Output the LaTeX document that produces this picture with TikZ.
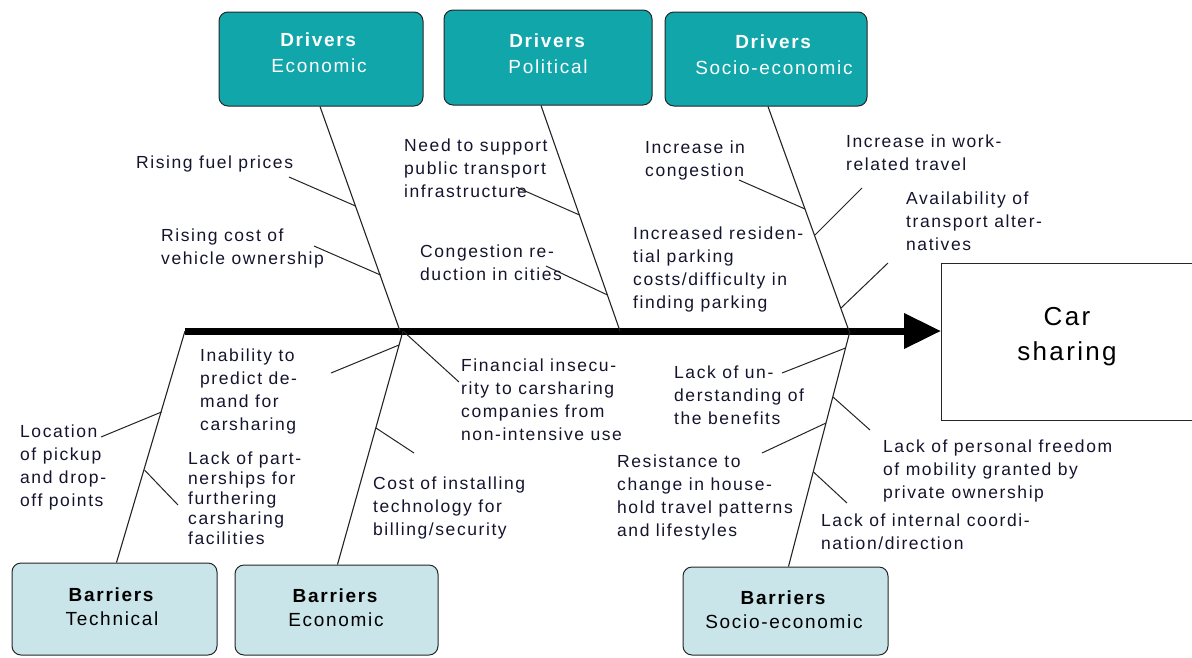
\documentclass[tikz,border=0pt]{standalone}
\usepackage{fontspec}
\setmainfont{Liberation Sans}[LetterSpace=9]
\usetikzlibrary{arrows.meta}

\definecolor{drvteal}{RGB}{16,166,170}
\definecolor{barblue}{RGB}{201,229,234}
\definecolor{boneline}{RGB}{35,35,35}
\definecolor{causetext}{RGB}{20,20,45}

\tikzset{
	bone/.style={draw=boneline, line width=1.1pt},
	twig/.style={draw=boneline, line width=1pt},
	cause/.style={anchor=north west, yshift=14pt, align=left, inner sep=0pt, text=causetext,
		font=\fontsize{17.5}{23}\selectfont, execute at begin node={\rule{0pt}{14pt}}},
	catbox/.style={draw=black!85, line width=1pt, rounded corners=9pt},
	drvbox/.style={catbox, fill=drvteal},
	barbox/.style={catbox, fill=barblue},
	drvtext/.style={align=center, text=white, font=\fontsize{19}{26}\selectfont},
	bartext/.style={align=center, text=black, font=\fontsize{19}{24}\selectfont}
}

\begin{document}
\begin{tikzpicture}[x=1pt, y=-1pt]
	\useasboundingbox (0,0) rectangle (1192,657);

	% effect box and spine:
	\node [draw=black!85, line width=1pt, minimum width=253pt, minimum height=157pt] (car) at (1067.5,341.5) {};
	\node [align=center, font=\fontsize{26}{35}\selectfont] (cartext) at (1067,337) {Car\\sharing};
	\coordinate (tail) at (185,331);
	\coordinate (head) at (941,331);
	\draw [line width=7pt, -{Triangle[length=37pt, width=34pt]}] (tail) -- (head);

	% drivers:
	\node [drvbox, minimum width=204pt, minimum height=94pt] (drvEco) at (321,59) {};
	\node [drvbox, minimum width=208pt, minimum height=95pt] (drvPol) at (548,57.5) {};
	\node [drvbox, minimum width=202pt, minimum height=94pt] (drvSoc) at (766,59) {};
	\node [drvtext] (drvEcoT) at (319,53) {\textbf{Drivers}\\Economic};
	\node [drvtext] (drvPolT) at (548,54) {\textbf{Drivers}\\Political};
	\node [drvtext] (drvSocT) at (774,55) {\textbf{Drivers}\\Socio-economic};

	% barriers:
	\node [barbox, minimum width=205pt, minimum height=92pt] (barTec) at (114.5,609) {};
	\node [barbox, minimum width=203pt, minimum height=90pt] (barEco) at (336.5,610) {};
	\node [barbox, minimum width=205pt, minimum height=88pt] (barSoc) at (785.5,611) {};
	\node [bartext] (barTecT) at (112,607) {\textbf{Barriers}\\Technical};
	\node [bartext] (barEcoT) at (336,608) {\textbf{Barriers}\\Economic};
	\node [bartext] (barSocT) at (784,610) {\textbf{Barriers}\\Socio-economic};

	% bones on the spine:
	\coordinate (sEco) at (400,331);
	\coordinate (sPol) at (620,331);
	\coordinate (sSoc) at (849,331);
	\coordinate (sBarEco) at (403,331);
	\coordinate (sBarSoc) at (850,331);
	\draw [bone] ([xshift=-1pt]drvEco.south) -- (sEco);
	\draw [bone] ([xshift=-7pt]drvPol.south) -- (sPol);
	\draw [bone] ([xshift=2pt]drvSoc.south) -- (sSoc);
	\draw [bone] (tail) -- ([xshift=2pt]barTec.north);
	\draw [bone] (sBarEco) -- ([xshift=1pt]barEco.north);
	\draw [bone] (sBarSoc) -- ([xshift=3pt]barSoc.north);

	% causes, drivers economic:
	\node [cause] (fuel) at (136,168) {Rising fuel prices};
	\node [cause] (owncost) at (161,243) {Rising cost of\\vehicle ownership};
	\draw [twig] (355.5,206) coordinate (fuelB) -- (289,177) coordinate (fuelE);
	\draw [twig] (380.5,275) coordinate (owncostB) -- (314,246) coordinate (owncostE);

	% causes, drivers political:
	\node [cause] (pubtr) at (404,153) {Need to support\\public transport\\infrastructure};
	\node [cause] (congred) at (420,259) {Congestion re-\\duction in cities};
	\draw [twig] (579.5,215) coordinate (pubtrB) -- (516,187) coordinate (pubtrE);
	\draw [twig] (607.5,295) coordinate (congredB) -- (546,266) coordinate (congredE);

	% causes, drivers socio-economic:
	\node [cause] (congest) at (645,155) {Increase in\\congestion};
	\node [cause] (work) at (846,149) {Increase in work-\\related travel};
	\node [cause] (altern) at (906,206) {Availability of\\transport alter-\\natives};
	\node [cause] (parking) at (633,241) {Increased residen-\\tial parking\\costs/difficulty in\\finding parking};
	\draw [twig] (805,209) coordinate (congestB) -- (739,180) coordinate (congestE);
	\draw [twig] (815,235) coordinate (workB) -- (862,188) coordinate (workE);
	\draw [twig] (841,308) coordinate (alternB) -- (888,263) coordinate (alternE);

	% causes, barriers technical:
	\node [cause] (pickup) at (20,439) {Location\\of pickup\\and drop-\\off points};
	\node [cause, font=\fontsize{17.5}{20}\selectfont] (partner) at (188,466) {Lack of part-\\nerships for\\furthering\\carsharing\\facilities};
	\draw [twig] (161.5,412) coordinate (pickupB) -- (101,437) coordinate (pickupE);
	\draw [twig] (144.5,470) coordinate (partnerB) -- (178,505) coordinate (partnerE);

	% causes, barriers economic:
	\node [cause] (demand) at (200,363) {Inability to\\predict de-\\mand for\\carsharing};
	\node [cause] (finance) at (461,373) {Financial insecu-\\rity to carsharing\\companies from\\non-intensive use};
	\node [cause] (install) at (373,491) {Cost of installing\\technology for\\billing/security};
	\draw [twig] (399,345) coordinate (demandB) -- (331,373) coordinate (demandE);
	\draw [twig] (sBarEco) -- (459,382) coordinate (financeE);
	\draw [twig] (376,428) coordinate (installB) -- (414,453) coordinate (installE);

	% causes, barriers socio-economic:
	\node [cause] (benefit) at (674,380) {Lack of un-\\derstanding of\\the benefits};
	\node [cause] (habits) at (617,469) {Resistance to\\change in house-\\hold travel patterns\\and lifestyles};
	\node [cause] (freedom) at (883,454) {Lack of personal freedom\\of mobility granted by\\private ownership};
	\node [cause] (coord) at (821,528) {Lack of internal coordi-\\nation/direction};
	\draw [twig] (845.5,348) coordinate (benefitB) -- (782,373) coordinate (benefitE);
	\draw [twig] (833,397) coordinate (freedomB) -- (870,430) coordinate (freedomE);
	\draw [twig] (826,423) coordinate (habitsB) -- (762,453) coordinate (habitsE);
	\draw [twig] (813.5,472) coordinate (coordB) -- (847,503) coordinate (coordE);
\end{tikzpicture}
\end{document}
